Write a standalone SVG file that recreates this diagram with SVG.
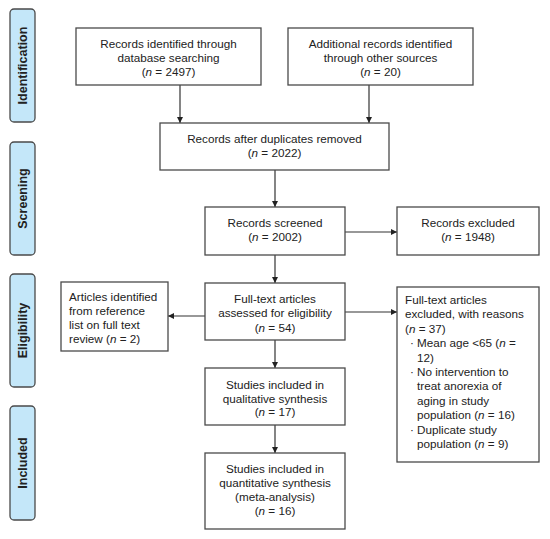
<svg xmlns="http://www.w3.org/2000/svg" width="550" height="539" viewBox="0 0 550 539">
<defs>
<marker id="ah" markerWidth="7" markerHeight="7" refX="6" refY="3" orient="auto" markerUnits="userSpaceOnUse">
<path d="M0,0 L6,3 L0,6 z" fill="#222"/>
</marker>
<style>
.box{fill:#fff;stroke:#4a4a4a;stroke-width:1.3}
.phase{fill:#c4e7f9;stroke:#4a4a4a;stroke-width:1.3}
.t{font-family:"Liberation Sans",Arial,sans-serif;font-size:11.7px;fill:#222;text-anchor:middle}
.l{text-anchor:start}
.p{font-family:"Liberation Sans",Arial,sans-serif;font-size:12.5px;font-weight:bold;fill:#222;text-anchor:middle}
.c{stroke:#333;stroke-width:1.2;fill:none;marker-end:url(#ah)}
.i{font-style:italic}
</style>
</defs>
<rect width="550" height="539" fill="#fff"/>
<g id="phase-identification"><rect class="phase" x="10" y="9" width="25" height="113" rx="4"/><text class="p" transform="translate(27,65.5) rotate(-90)">Identification</text></g>
<g id="phase-screening"><rect class="phase" x="10" y="142" width="25" height="113" rx="4"/><text class="p" transform="translate(27,198.5) rotate(-90)">Screening</text></g>
<g id="phase-eligibility"><rect class="phase" x="10" y="274" width="25" height="113" rx="4"/><text class="p" transform="translate(27,330.5) rotate(-90)">Eligibility</text></g>
<g id="phase-included"><rect class="phase" x="10" y="406" width="25" height="114" rx="4"/><text class="p" transform="translate(27,463) rotate(-90)">Included</text></g>
<g id="connectors">
<line class="c" x1="180" y1="85" x2="180" y2="123"/>
<line class="c" x1="369" y1="85" x2="369" y2="123"/>
<line class="c" x1="275" y1="170" x2="275" y2="207"/>
<line class="c" x1="275" y1="255" x2="275" y2="283"/>
<line class="c" x1="345" y1="232" x2="397" y2="232"/>
<line class="c" x1="345" y1="312" x2="397" y2="312"/>
<line class="c" x1="205" y1="316" x2="168" y2="316"/>
<line class="c" x1="275" y1="340" x2="275" y2="368"/>
<line class="c" x1="275" y1="425" x2="275" y2="453"/>
</g>
<g id="n1"><rect class="box" x="76" y="28" width="185" height="57"/>
<text class="t" x="168.5" y="47.5">Records identified through</text>
<text class="t" x="168.5" y="61.8">database searching</text>
<text class="t" x="168.5" y="76.1">(<tspan class="i">n</tspan> = 2497)</text></g>
<g id="n2"><rect class="box" x="288" y="28" width="185" height="57"/>
<text class="t" x="380.5" y="47.5">Additional records identified</text>
<text class="t" x="380.5" y="61.8">through other sources</text>
<text class="t" x="380.5" y="76.1">(<tspan class="i">n</tspan> = 20)</text></g>
<g id="n3"><rect class="box" x="160" y="123" width="229" height="47"/>
<text class="t" x="274.5" y="142.5">Records after duplicates removed</text>
<text class="t" x="274.5" y="157">(<tspan class="i">n</tspan> = 2022)</text></g>
<g id="n4"><rect class="box" x="205" y="207" width="140" height="48"/>
<text class="t" x="275" y="227">Records screened</text>
<text class="t" x="275" y="241.3">(<tspan class="i">n</tspan> = 2002)</text></g>
<g id="n5"><rect class="box" x="397" y="207" width="142" height="48"/>
<text class="t" x="468" y="227">Records excluded</text>
<text class="t" x="468" y="241.3">(<tspan class="i">n</tspan> = 1948)</text></g>
<g id="n6"><rect class="box" x="205" y="283" width="140" height="57"/>
<text class="t" x="275" y="303">Full-text articles</text>
<text class="t" x="275" y="317.3">assessed for eligibility</text>
<text class="t" x="275" y="331.6">(<tspan class="i">n</tspan> = 54)</text></g>
<g id="n7"><rect class="box" x="61" y="282" width="107" height="69"/>
<text class="t l" x="69" y="301">Articles identified</text>
<text class="t l" x="69" y="315">from reference</text>
<text class="t l" x="69" y="329">list on full text</text>
<text class="t l" x="69" y="343">review (<tspan class="i">n</tspan> = 2)</text></g>
<g id="n8"><rect class="box" x="397" y="287" width="142" height="175"/>
<text class="t l" x="405" y="304">Full-text articles</text>
<text class="t l" x="405" y="318.4">excluded, with reasons</text>
<text class="t l" x="405" y="332.8">(<tspan class="i">n</tspan> = 37)</text>
<text class="t l" x="410" y="347.2">·</text><text class="t l" x="417" y="347.2">Mean age &lt;65 (<tspan class="i">n</tspan> =</text>
<text class="t l" x="417" y="361.6">12)</text>
<text class="t l" x="410" y="376">·</text><text class="t l" x="417" y="376">No intervention to</text>
<text class="t l" x="417" y="390.4">treat anorexia of</text>
<text class="t l" x="417" y="404.8">aging in study</text>
<text class="t l" x="417" y="419.2">population (<tspan class="i">n</tspan> = 16)</text>
<text class="t l" x="410" y="433.6">·</text><text class="t l" x="417" y="433.6">Duplicate study</text>
<text class="t l" x="417" y="448">population (<tspan class="i">n</tspan> = 9)</text></g>
<g id="n9"><rect class="box" x="205" y="368" width="140" height="57"/>
<text class="t" x="275" y="389">Studies included in</text>
<text class="t" x="275" y="402.5">qualitative synthesis</text>
<text class="t" x="275" y="416">(<tspan class="i">n</tspan> = 17)</text></g>
<g id="n10"><rect class="box" x="205" y="453" width="140" height="76"/>
<text class="t" x="275" y="473">Studies included in</text>
<text class="t" x="275" y="487">quantitative synthesis</text>
<text class="t" x="275" y="501">(meta-analysis)</text>
<text class="t" x="275" y="515">(<tspan class="i">n</tspan> = 16)</text></g>
</svg>
